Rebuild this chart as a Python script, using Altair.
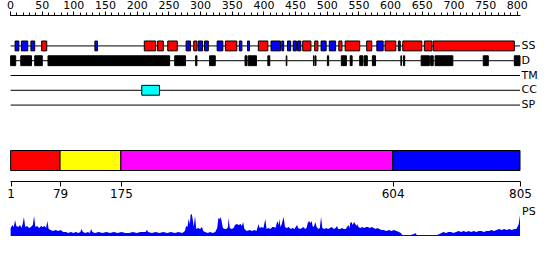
import altair as alt
import pandas as pd

LENGTH = 805
FONT = "DejaVu Sans"
track_names = ["SS", "D", "TM", "CC", "SP"]

# secondary structure segments (residues)
ss_start = [8, 18, 33, 50, 134, 212, 233, 249, 278, 290, 297, 307, 327, 340, 362, 375, 392, 412,
            429, 438, 447, 454, 462, 481, 491, 504, 519, 529, 563, 579, 592, 613, 620, 654, 668]
ss_end = [14, 28, 39, 58, 138, 230, 242, 264, 285, 295, 304, 313, 336, 358, 366, 378, 407, 427,
          432, 443, 452, 459, 475, 486, 499, 514, 524, 552, 571, 589, 609, 616, 650, 666, 796]
ss_kind = ["strand", "strand", "strand", "helix", "strand", "helix", "helix", "helix", "strand",
           "helix", "strand", "strand", "strand", "helix", "strand", "strand", "helix", "strand",
           "strand", "strand", "strand", "strand", "helix", "helix", "strand", "strand", "helix",
           "helix", "helix", "strand", "helix", "strand", "helix", "helix", "helix"]

# disorder segments
dis_start = [1, 17, 39, 60, 260, 293, 315, 371, 376, 407, 436, 479, 482, 501, 523, 537, 552, 559,
             572, 617, 621, 649, 664, 671, 747, 796]
dis_end = [9, 34, 51, 252, 277, 295, 324, 374, 389, 410, 437, 480, 483, 503, 531, 540, 557, 564,
           577, 618, 623, 662, 668, 699, 755, 805]

# coiled coil
cc_start = [208]
cc_end = [236]

# domains
dom_start = [1, 79, 175, 604]
dom_end = [79, 175, 604, 805]
dom_color = ["#ff0000", "#ffff00", "#ff00ff", "#0000ff"]
dom_ticks = [1, 79, 175, 604, 805]

# PS profile: residue positions and scores
ps_pos = [1, 4, 6, 8, 10, 13, 16, 18, 20, 22, 24, 27, 30, 33, 36, 38, 40, 43, 46, 49,
          52, 55, 57, 59, 61, 64, 68, 72, 76, 80, 84, 88, 92, 96, 100, 104, 108, 111, 113, 115,
          119, 123, 126, 128, 130, 134, 140, 146, 152, 158, 164, 170, 176, 182, 188, 194, 200, 206, 212, 214,
          216, 218, 224, 230, 236, 242, 248, 254, 260, 266, 272, 276, 278, 280, 282, 284, 285, 287, 289, 290,
          292, 294, 297, 300, 303, 305, 308, 312, 316, 320, 324, 327, 329, 331, 332, 334, 336, 339, 342, 344,
          345, 347, 350, 353, 355, 358, 361, 364, 366, 368, 370, 374, 378, 382, 386, 389, 391, 392, 394, 397,
          400, 403, 405, 408, 411, 414, 417, 419, 422, 424, 425, 427, 429, 431, 432, 434, 437, 440, 443, 446,
          449, 451, 453, 455, 458, 461, 463, 466, 468, 470, 472, 474, 476, 478, 480, 482, 484, 487, 489, 491,
          493, 496, 499, 502, 505, 508, 511, 514, 516, 518, 521, 524, 527, 530, 532, 534, 536, 537, 539, 541,
          543, 545, 547, 548, 550, 553, 556, 559, 562, 565, 568, 571, 574, 577, 580, 583, 586, 590, 594, 598,
          602, 606, 610, 614, 617, 619, 625, 632, 638, 640, 642, 650, 658, 666, 674, 678, 681, 684, 688, 692,
          696, 700, 704, 708, 712, 716, 720, 724, 728, 732, 736, 740, 744, 748, 752, 756, 760, 764, 768, 772,
          776, 780, 784, 788, 792, 796, 799, 801, 803, 805]
ps_values = [8, 11, 9, 16, 10, 9, 11, 8, 12, 19, 9, 10, 8, 9, 11, 20, 9, 10, 8, 10,
             9, 10, 8, 15, 7, 6, 5, 6, 5, 6, 4, 4, 3, 4, 3, 4, 3, 4, 7, 4,
             3, 4, 3, 7, 4, 3, 4, 3, 4, 3, 4, 3, 4, 3, 3, 4, 3, 4, 4, 4,
             6, 4, 3, 4, 3, 4, 3, 4, 3, 4, 3, 5, 10, 9, 17, 12, 21, 22, 14, 9,
             20, 7, 8, 7, 9, 5, 4, 3, 4, 3, 4, 8, 18, 17, 19, 15, 8, 7, 7, 9,
             18, 8, 7, 8, 11, 12, 11, 12, 10, 14, 7, 5, 6, 5, 6, 5, 9, 12, 8, 9,
             8, 17, 7, 8, 7, 9, 9, 8, 15, 11, 17, 9, 12, 17, 19, 9, 8, 9, 7, 8,
             7, 9, 11, 8, 7, 8, 9, 7, 8, 13, 15, 13, 15, 9, 10, 14, 9, 7, 8, 19,
             8, 7, 8, 7, 8, 9, 7, 8, 10, 7, 7, 8, 7, 7, 9, 11, 8, 13, 14, 11,
             14, 12, 10, 12, 9, 8, 9, 8, 9, 9, 8, 9, 8, 7, 8, 7, 6, 6, 5, 6,
             5, 6, 5, 4, 3, 1, 1, 1, 2, 3, 1, 1, 1, 1, 1, 2, 3, 4, 3, 4,
             4, 3, 4, 5, 4, 5, 4, 5, 4, 5, 4, 5, 5, 4, 5, 5, 6, 5, 6, 7,
             6, 7, 6, 7, 6, 7, 7, 9, 12, 21]

top_major = list(range(0, 801, 50))
top_minor = list(range(0, 801, 10))

lines_df = pd.DataFrame({"track": track_names, "start": [1] * 5, "end": [LENGTH] * 5})
ss_df = pd.DataFrame({"track": "SS", "start": ss_start, "end": ss_end, "kind": ss_kind})
dis_df = pd.DataFrame({"track": "D", "start": dis_start, "end": dis_end})
cc_df = pd.DataFrame({"track": "CC", "start": cc_start, "end": cc_end})
dom_df = pd.DataFrame({"row": "dom", "start": dom_start, "end": dom_end, "color": dom_color})
ps_df = pd.DataFrame({"pos": ps_pos, "score": ps_values})
ps_lab = pd.DataFrame({"pos": [LENGTH], "score": [ps_values[-1]], "label": ["PS"]})

x_scale = alt.Scale(domain=[0, LENGTH], nice=False, zero=False)


def track_y(axis=None):
    return alt.Y("track:N", scale=alt.Scale(domain=track_names, range=[41, 110],
                                            paddingInner=0.3333, paddingOuter=0), axis=axis)


def ps_y():
    return alt.Y("score:Q", scale=alt.Scale(domain=[0, 22], range=[236, 214], nice=False), axis=None)


lines = alt.Chart(lines_df).mark_rule(color="black", strokeWidth=1).encode(
    x=alt.X("start:Q", scale=x_scale,
            axis=alt.Axis(orient="top", values=top_major, offset=-15, tickSize=4, labelPadding=1,
                          labelFontSize=11, labelFont=FONT, labelColor="black", domainColor="black",
                          tickColor="black", grid=False, title=None, labelFlush=False,
                          labelOverlap=False)),
    x2="end:Q",
    y=track_y(alt.Axis(orient="right", ticks=False, domain=False, labelPadding=1, labelFontSize=11,
                       labelFont=FONT, labelColor="black", title=None, grid=False)),
)

ss = alt.Chart(ss_df).mark_bar(stroke="black", strokeWidth=1).encode(
    x=alt.X("start:Q", scale=x_scale,
            axis=alt.Axis(orient="top", values=top_minor, offset=-15, tickSize=3, labels=False,
                          domain=False, tickColor="black", grid=False, title=None)),
    x2="end:Q",
    y=track_y(),
    color=alt.Color("kind:N", scale=alt.Scale(domain=["helix", "strand"],
                                              range=["#ff0000", "#0000ff"]), legend=None),
)

dis = alt.Chart(dis_df).mark_bar(color="black", stroke="black", strokeWidth=1).encode(
    x=alt.X("start:Q", scale=x_scale, axis=None), x2="end:Q", y=track_y(),
)

cc = alt.Chart(cc_df).mark_bar(color="#00ffff", stroke="black", strokeWidth=1).encode(
    x=alt.X("start:Q", scale=x_scale, axis=None), x2="end:Q", y=track_y(),
)

dom = alt.Chart(dom_df).mark_bar(stroke="black", strokeWidth=1).encode(
    x=alt.X("start:Q", scale=x_scale,
            axis=alt.Axis(orient="bottom", values=dom_ticks, offset=-79, tickSize=5, labelPadding=2,
                          labelFontSize=12, labelFont=FONT, labelColor="black", domainColor="black",
                          tickColor="black", grid=False, title=None, labelFlush=False,
                          labelOverlap=False)),
    x2="end:Q",
    y=alt.Y("row:N", scale=alt.Scale(domain=["dom"], range=[150.5, 170.5], paddingInner=0,
                                     paddingOuter=0), axis=None),
    color=alt.Color("color:N", scale=None),
)

ps = alt.Chart(ps_df).mark_area(color="#0000ff", interpolate="linear").encode(
    x=alt.X("pos:Q", scale=x_scale, axis=None),
    y=ps_y(),
)

ps_text = alt.Chart(ps_lab).mark_text(align="left", baseline="alphabetic", dx=2, fontSize=11,
                                      font=FONT, color="black").encode(
    x=alt.X("pos:Q", scale=x_scale, axis=None),
    y=ps_y(),
    text="label:N",
)

chart = alt.layer(lines, ss, dis, cc, dom, ps, ps_text).resolve_scale(
    y="independent"
).resolve_axis(x="independent", y="independent").properties(
    width=510, height=260,
    padding={"left": 10, "top": 0, "right": 30, "bottom": 0},
    autosize=alt.AutoSizeParams(type="none"),
    background="white",
).configure_view(strokeWidth=0)

chart.save("out.html", embed_options={"renderer": "svg", "actions": False})
